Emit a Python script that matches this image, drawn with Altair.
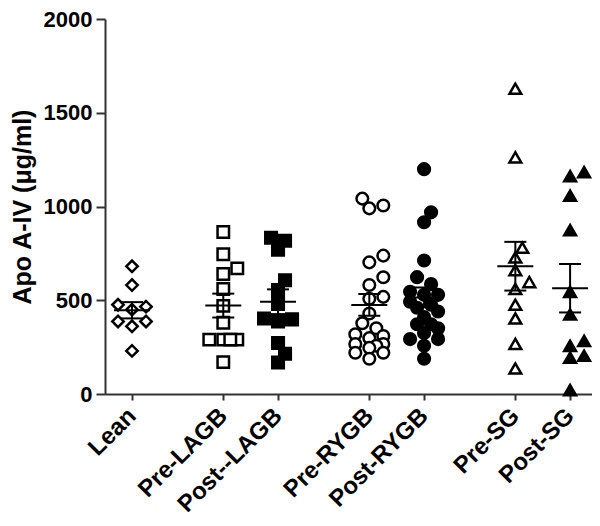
import altair as alt
import pandas as pd
import math

categories = ["Lean", "Pre-LAGB", "Post--LAGB", "Pre-RYGB", "Post-RYGB", "Pre-SG", "Post-SG"]
surgery_group = [0, 1, 1, 2, 2, 3, 3]

lean = [681, 581, 476, 466, 450, 387, 361, 387, 230]
pre_lagb = [864, 745, 670, 640, 560, 470, 380, 290, 290, 290, 290, 170]
post_lagb = [833, 817, 770, 607, 555, 480, 403, 398, 387, 272, 215, 168]
pre_rygb = [1042, 1005, 990, 738, 702, 623, 581, 518, 508, 429, 377, 351,
            319, 309, 298, 267, 267, 257, 246, 220, 220, 188]
post_rygb = [1199, 969, 916, 712, 623, 586, 545, 529, 529, 492, 476, 460,
             440, 410, 372, 372, 350, 325, 293, 293, 257, 188]
pre_sg = [1628, 1262, 780, 728, 660, 597, 560, 476, 403, 267, 136]
post_sg = [1183, 1162, 1058, 874, 545, 424, 283, 257, 204, 194, 21]

series = [lean, pre_lagb, post_lagb, pre_rygb, post_rygb, pre_sg, post_sg]

# plot geometry (pixels) used only for the swarm layout of points
PLOT_W, PLOT_H = 487, 375
X_DOMAIN = [-1.48, 25.2]
Y_DOMAIN = [0, 2000]
XPX = PLOT_W / (X_DOMAIN[1] - X_DOMAIN[0])
YPX = PLOT_H / (Y_DOMAIN[1] - Y_DOMAIN[0])


def swarm(vals, d=13.0, step=7.0, limit=19.0):
    order = sorted(range(len(vals)), key=lambda i: vals[i])
    placed = []
    offs = [0.0] * len(vals)
    for i in order:
        y = vals[i] * YPX
        best, best_d = 0.0, -1
        k = 0
        while True:
            c = ((k + 1) // 2) * step * (1 if k % 2 == 1 else -1)
            k += 1
            if abs(c) > limit:
                break
            md = min([math.hypot(c - px, y - py) for px, py in placed] or [99])
            if md >= d * 0.85:
                best, best_d = c, md
                break
            if md > best_d:
                best, best_d = c, md
        placed.append((best, y))
        offs[i] = best / XPX
    return offs


rows = []
for idx, (cat, vals) in enumerate(zip(categories, series)):
    offs = swarm(vals)
    for v, o in zip(vals, offs):
        rows.append({"cat": cat, "idx": idx, "grp": surgery_group[idx], "v": v, "off": o})
df = pd.DataFrame(rows)

positions = [i * 3 + g * 2 for i, g in enumerate(surgery_group)]
label_expr = "".join(f"datum.value == {p} ? '{c}' : " for p, c in zip(positions, categories)) + "''"

FONT = "Liberation Sans"


def xenc(field):
    return alt.X(
        field,
        type="quantitative",
        scale=alt.Scale(domain=X_DOMAIN, nice=False, zero=False),
        axis=alt.Axis(
            values=positions, labelExpr=label_expr, grid=False, title=None,
            labelAngle=-45, labelAlign="right", labelBaseline="middle",
            labelOverlap=False, labelBound=False, labelFlush=False,
            labelFont=FONT, labelFontSize=24, labelFontWeight="bold", labelColor="black",
            labelPadding=12, tickSize=6, tickWidth=2, tickColor="#333",
            domainColor="#333", domainWidth=2,
        ),
    )


def yenc(field):
    return alt.Y(
        field,
        type="quantitative",
        scale=alt.Scale(domain=Y_DOMAIN, nice=False),
        axis=alt.Axis(
            values=[0, 500, 1000, 1500, 2000], format="d", grid=False,
            title="Apo A-IV (μg/ml)", labelOverlap=False, labelFlush=False,
            labelFont=FONT, labelFontSize=22, labelFontWeight="bold", labelColor="black",
            labelPadding=4, tickSize=9, tickWidth=2, tickColor="#333",
            domainColor="#333", domainWidth=2,
            titleFont=FONT, titleFontSize=25, titleFontWeight="bold", titleColor="black",
            titlePadding=8,
        ),
    )


base = alt.Chart(df).transform_calculate(pos="datum.idx * 3 + datum.grp * 2")

points = base.transform_calculate(xp="datum.pos + datum.off").mark_point(
    stroke="black", strokeWidth=2.5, opacity=1, fillOpacity=1
).encode(
    x=xenc("xp"),
    y=yenc("v"),
    shape=alt.Shape("cat:N", legend=None, scale=alt.Scale(
        domain=categories,
        range=["diamond", "square", "square", "circle", "circle", "triangle-up", "triangle-up"])),
    fill=alt.Fill("cat:N", legend=None, scale=alt.Scale(
        domain=categories,
        range=["white", "white", "black", "white", "black", "white", "black"])),
    size=alt.Size("cat:N", legend=None, scale=alt.Scale(
        domain=categories, range=[130, 140, 170, 150, 190, 140, 150])),
)

stats = base.transform_aggregate(
    m="mean(v)", se="stderr(v)", groupby=["cat", "pos"]
).transform_calculate(lo="datum.m - datum.se", hi="datum.m + datum.se")

mean_tick = stats.mark_tick(orient="horizontal", size=36, thickness=2, color="black", opacity=1).encode(
    x=xenc("pos"), y=yenc("m"))
lo_tick = stats.mark_tick(orient="horizontal", size=22, thickness=2, color="black", opacity=1).encode(
    x=xenc("pos"), y=yenc("lo"))
hi_tick = stats.mark_tick(orient="horizontal", size=22, thickness=2, color="black", opacity=1).encode(
    x=xenc("pos"), y=yenc("hi"))
bar = stats.mark_rule(strokeWidth=2, color="black").encode(
    x=xenc("pos"), y=yenc("lo"), y2="hi:Q")

chart = alt.layer(points, bar, mean_tick, lo_tick, hi_tick).properties(
    width=PLOT_W, height=PLOT_H,
    autosize=alt.AutoSizeParams(type="none"),
    padding={"left": 97, "top": 11, "right": 0, "bottom": 126},
    background="white",
).configure_view(stroke=None)

chart.save("out.html", embed_options={"renderer": "svg", "actions": False})
